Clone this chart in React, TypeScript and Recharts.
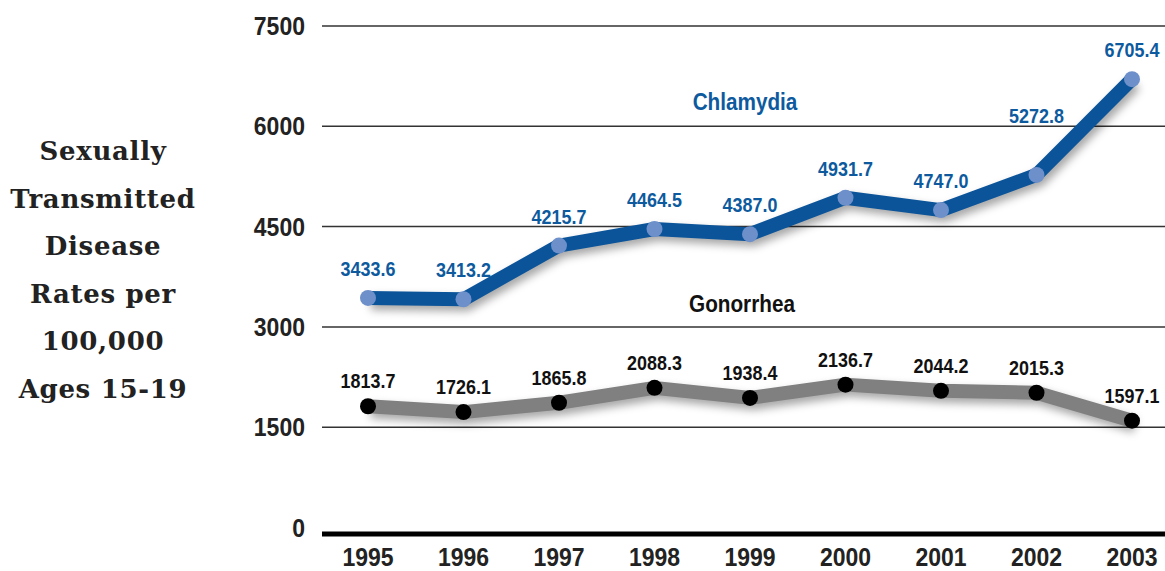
import { LineChart, Line, XAxis, YAxis, CartesianGrid, LabelList } from 'recharts'

const years = ['1995', '1996', '1997', '1998', '1999', '2000', '2001', '2002', '2003']
const chlamydia = [3433.6, 3413.2, 4215.7, 4464.5, 4387.0, 4931.7, 4747.0, 5272.8, 6705.4]
const gonorrhea = [1813.7, 1726.1, 1865.8, 2088.3, 1938.4, 2136.7, 2044.2, 2015.3, 1597.1]
const yTicks = [0, 1500, 3000, 4500, 6000, 7500]
const gridValues = [1500, 3000, 4500, 6000, 7500]
const titleLines = ['Sexually', 'Transmitted', 'Disease', 'Rates per', '100,000', 'Ages 15-19']

const data = years.map((year, i) => ({ year, chlamydia: chlamydia[i], gonorrhea: gonorrhea[i] }))

// no condensed font installed, so squeeze Liberation Sans bold horizontally
const sans = '"Liberation Sans", Arial, sans-serif'
const squeeze = 0.92

// extra lift for labels that sit on a steep segment
const chlamydiaLift = [0, 0, 0, 0, 0, 0, 0, 30, 0]

function NarrowText({ x, y, anchor, size, color, children }: any) {
  return (
    <g transform={`translate(${x},${y}) scale(${squeeze},1)`}>
      <text x={0} y={0} textAnchor={anchor} fill={color} style={{ fontFamily: sans, fontWeight: 700, fontSize: size }}>
        {children}
      </text>
    </g>
  )
}

const YTick = (props: any) => {
  const { x, y, payload } = props
  return (
    <NarrowText x={x} y={y + 9} anchor="end" size={25} color="#222">
      {payload.value}
    </NarrowText>
  )
}

const XTick = (props: any) => {
  const { x, y, payload } = props
  return (
    <NarrowText x={x} y={y + 17} anchor="middle" size={25} color="#222">
      {payload.value}
    </NarrowText>
  )
}

const makeLabel = (color: string, offset: number, lift: number[] = []) => (props: any) => {
  const { x, y, value, index } = props
  return (
    <NarrowText x={x} y={y - offset - (lift[index] || 0)} anchor="middle" size={19.5} color={color}>
      {Number(value).toFixed(1)}
    </NarrowText>
  )
}

const seriesName = {
  position: 'absolute' as const,
  fontFamily: sans,
  fontWeight: 700,
  fontSize: 23,
  whiteSpace: 'nowrap' as const,
  transform: `translate(-50%, -50%) scaleX(${squeeze - 0.02})`,
}

export default function App() {
  return (
    <div style={{ position: 'relative', width: 1165, height: 571, background: '#fff' }}>
      <style>{`body{margin:0}.recharts-line-curve{filter:drop-shadow(3px 5px 4px rgba(0,0,0,0.35))}`}</style>
      <LineChart width={1165} height={571} data={data} margin={{ top: 26, right: 0, bottom: 0, left: 0 }}>
        <CartesianGrid vertical={false} horizontalValues={gridValues} stroke="#333" strokeWidth={1.5} />
        <XAxis
          dataKey="year"
          height={37}
          padding={{ left: 46, right: 33 }}
          axisLine={{ stroke: '#000', strokeWidth: 5 }}
          tickLine={false}
          tickMargin={9}
          tick={<XTick />}
        />
        <YAxis
          width={322}
          domain={[-97, 7500]}
          ticks={yTicks}
          axisLine={false}
          tickLine={false}
          tickMargin={11}
          tick={<YTick />}
        />
        <Line
          type="linear"
          dataKey="gonorrhea"
          stroke="#808080"
          strokeWidth={14}
          strokeLinejoin="round"
          dot={{ r: 8, fill: '#000', stroke: 'none' }}
          isAnimationActive={false}
        >
          <LabelList dataKey="gonorrhea" content={makeLabel('#111', 18)} />
        </Line>
        <Line
          type="linear"
          dataKey="chlamydia"
          stroke="#0b5499"
          strokeWidth={14}
          strokeLinejoin="round"
          dot={{ r: 8, fill: '#6d8fca', stroke: 'none' }}
          isAnimationActive={false}
        >
          <LabelList dataKey="chlamydia" content={makeLabel('#0d5a9e', 22, chlamydiaLift)} />
        </Line>
      </LineChart>

      <div style={{ ...seriesName, left: 745, top: 102, color: '#0d5a9e' }}>Chlamydia</div>
      <div style={{ ...seriesName, left: 742, top: 304, color: '#111' }}>Gonorrhea</div>

      <div style={{ position: 'absolute', left: 0, top: 128, width: 206, textAlign: 'center', fontFamily: '"DejaVu Serif", serif', fontWeight: 700, fontSize: 26, letterSpacing: 0.7, lineHeight: '47.6px', color: '#222' }}>
        {titleLines.map((t) => (
          <div key={t}>{t}</div>
        ))}
      </div>
    </div>
  )
}
